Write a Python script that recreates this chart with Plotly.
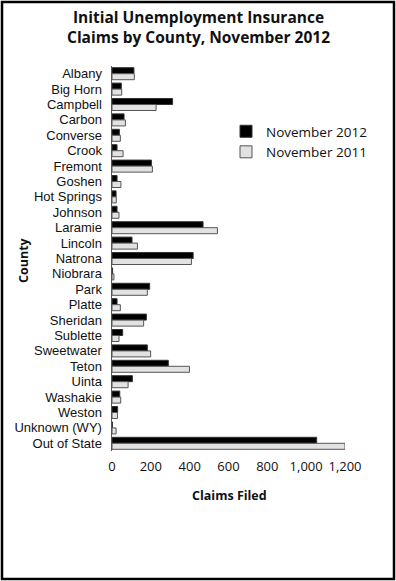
import plotly.graph_objects as go

counties = ["Albany", "Big Horn", "Campbell", "Carbon", "Converse", "Crook", "Fremont",
            "Goshen", "Hot Springs", "Johnson", "Laramie", "Lincoln", "Natrona", "Niobrara",
            "Park", "Platte", "Sheridan", "Sublette", "Sweetwater", "Teton", "Uinta",
            "Washakie", "Weston", "Unknown (WY)", "Out of State"]
nov_2012 = [113, 48, 312, 62, 38, 26, 203, 26, 21, 26, 469, 103, 418, 3,
            194, 26, 177, 55, 182, 290, 105, 40, 29, 2, 1054]
nov_2011 = [115, 50, 227, 69, 43, 57, 208, 46, 22, 36, 543, 131, 409, 10,
            182, 43, 163, 36, 199, 399, 83, 45, 28, 21, 1200]
x_ticks = [0, 200, 400, 600, 800, 1000, 1200]
x_tick_labels = ["0", "200", "400", "600", "800", "1,000", "1,200"]

W, H = 396, 581
L, R, T, B = 112, 345, 66, 451

def px_x(p):
    return (p - L) / (R - L)

def px_y(p):
    return (B - p) / (B - T)

FONT = "Open Sans"
TICKFONT = "Liberation Sans"
TXT = "#111111"

fig = go.Figure()
fig.add_trace(go.Bar(y=counties, x=nov_2012, orientation="h", name="November 2012",
                     marker=dict(color="#000000", line=dict(color="#333333", width=1))))
fig.add_trace(go.Bar(y=counties, x=nov_2011, orientation="h", name="November 2011",
                     marker=dict(color="#e2e2e2", line=dict(color="#555555", width=1))))

fig.update_layout(
    width=W, height=H,
    margin=dict(l=L, r=W - R, t=T, b=H - B, pad=0),
    paper_bgcolor="white", plot_bgcolor="white",
    barmode="group", bargap=0.22, bargroupgap=0.0,
    font=dict(family=FONT, size=12, color=TXT),
    showlegend=True,
    legend=dict(x=px_x(226), y=px_y(116), xanchor="left", yanchor="top",
                font=dict(family=FONT, size=13.5, color=TXT),
                bgcolor="rgba(0,0,0,0)", traceorder="normal", itemwidth=30,
                tracegroupgap=2),
    xaxis=dict(range=[0, 1200], tickvals=x_ticks, ticktext=x_tick_labels,
               showgrid=False, zeroline=False, showline=False, ticks="",
               tickfont=dict(family=FONT, size=13, color=TXT),
               ticklabelstandoff=6),
    yaxis=dict(autorange="reversed", showgrid=False, zeroline=False,
               tickmode="array", tickvals=counties, ticktext=counties,
               showline=True, linecolor="#555555", linewidth=1.5, ticks="",
               tickfont=dict(family=TICKFONT, size=13, color=TXT),
               ticklabelstandoff=6),
    shapes=[dict(type="rect", xref="paper", yref="paper",
                 x0=px_x(2), x1=px_x(394), y0=px_y(579), y1=px_y(2),
                 line=dict(color="#000000", width=2.5), fillcolor="rgba(0,0,0,0)")],
    annotations=[
        dict(text="<b>Initial Unemployment Insurance<br>Claims by County, November 2012</b>",
             xref="paper", yref="paper",
             x=px_x(198), y=px_y(27.5), xanchor="center", yanchor="middle",
             showarrow=False, font=dict(family=FONT, size=15.5, color=TXT)),
        dict(text="<b>Claims Filed</b>", xref="paper", yref="paper",
             x=px_x(229), y=px_y(495), xanchor="center", yanchor="middle",
             showarrow=False, font=dict(family=FONT, size=12.5, color=TXT)),
        dict(text="<b>County</b>", xref="paper", yref="paper",
             x=px_x(23), y=px_y(260), xanchor="center", yanchor="middle",
             textangle=-90, showarrow=False,
             font=dict(family=FONT, size=12.5, color=TXT)),
    ],
)

fig.write_html("out.html", config={"displayModeBar": False, "staticPlot": True},
               post_script="document.body.style.margin='0';document.body.style.padding='0';"
                           "document.documentElement.style.overflow='hidden';")
